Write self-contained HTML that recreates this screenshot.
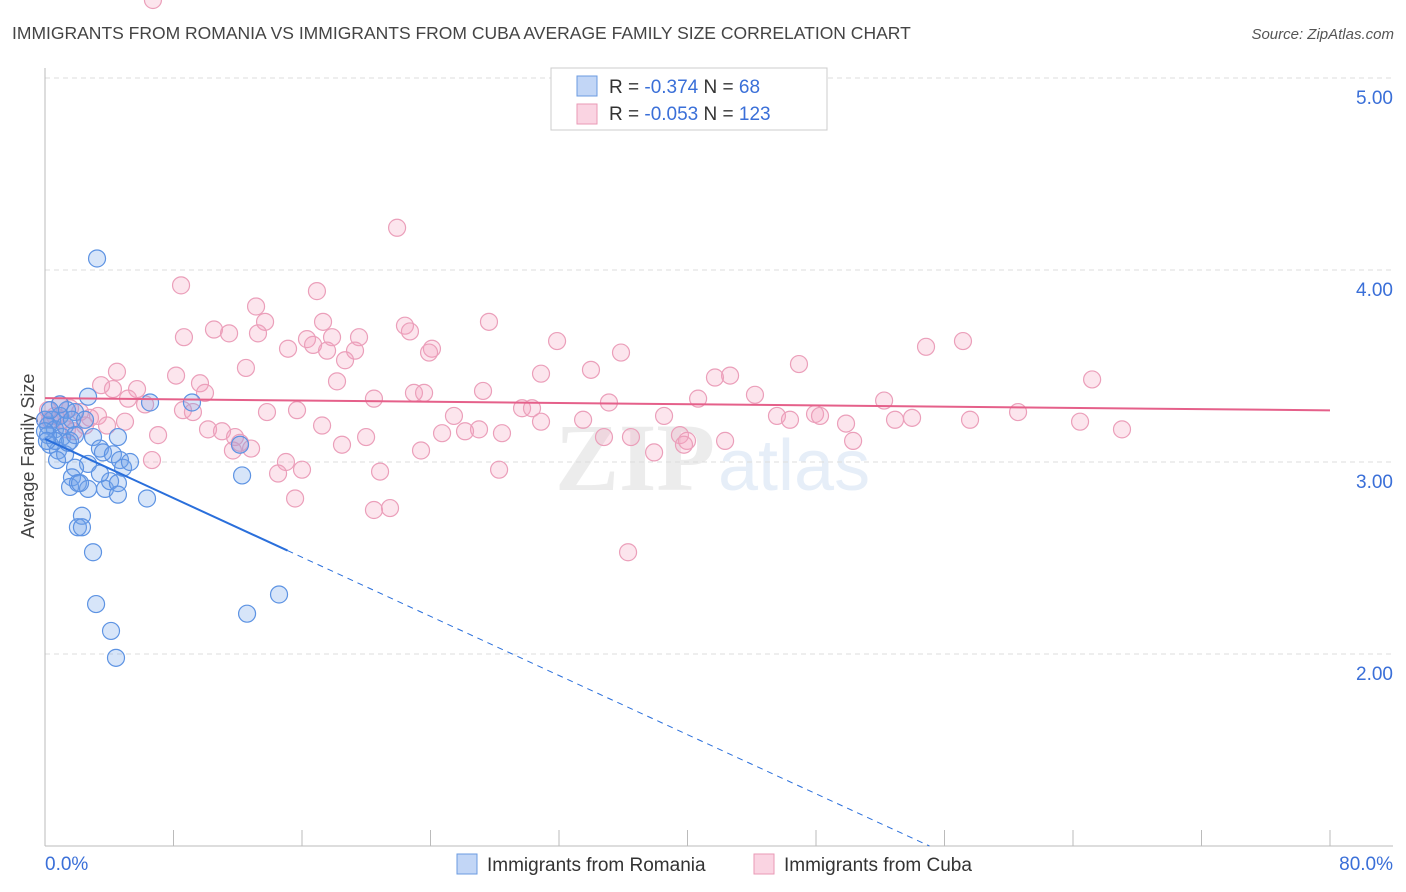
<!DOCTYPE html>
<html><head><meta charset="utf-8"><style>
body{margin:0;background:#fff;font-family:"Liberation Sans",sans-serif}
svg{display:block}
</style></head><body>
<svg id="chart" width="1406" height="892" xmlns="http://www.w3.org/2000/svg" font-family="Liberation Sans, sans-serif">
<text x="12" y="39" font-size="17.5" fill="#444">IMMIGRANTS FROM ROMANIA VS IMMIGRANTS FROM CUBA AVERAGE FAMILY SIZE CORRELATION CHART</text>
<text x="1394" y="39" font-size="15" fill="#555" text-anchor="end" font-style="italic">Source: ZipAtlas.com</text>
<g opacity="0.18">
<text x="555" y="490" font-size="96" font-family="Liberation Serif, serif" fill="#999" font-weight="bold">ZIP</text>
<text x="718" y="490" font-size="72" fill="#7aa5dd">atlas</text>
</g>
<g id="grid"></g>
<g id="axes"></g>
<text transform="translate(34,456) rotate(-90)" font-size="18" fill="#444" text-anchor="middle">Average Family Size</text>
<g id="marks"></g>
<g>
<rect x="551" y="68" width="276" height="62" fill="#fff" stroke="#ccc"/>
<rect x="577" y="76" width="20" height="20" fill="rgba(120,165,235,0.45)" stroke="#6b9be0"/>
<rect x="577" y="104" width="20" height="20" fill="rgba(245,160,190,0.45)" stroke="#e99ab6"/>
<text x="609" y="93" font-size="19" fill="#333">R = <tspan fill="#3a6fd8">-0.374</tspan>   N = <tspan fill="#3a6fd8"> 68</tspan></text>
<text x="609" y="120" font-size="19" fill="#333">R = <tspan fill="#3a6fd8">-0.053</tspan>   N = <tspan fill="#3a6fd8">123</tspan></text>
</g>
<g>
<rect x="457" y="854" width="20" height="20" fill="rgba(120,165,235,0.45)" stroke="#6b9be0"/>
<text x="487" y="871" font-size="19" fill="#333">Immigrants from Romania</text>
<rect x="754" y="854" width="20" height="20" fill="rgba(245,160,190,0.45)" stroke="#e99ab6"/>
<text x="784" y="871" font-size="19" fill="#333">Immigrants from Cuba</text>
</g>
</svg>
<script>
const yTicks=[2,3,4,5];
const xTickCount=[0,8,16,24,32,40,48,56,64,72,80];
const romX=[3.24,6.54,2.68,1.37,1.87,0.93,0.44,0.19,0.62,1.06,1.56,0.31,0.81,1.25,4.54,2.99,3.42,3.61,4.23,4.67,4.86,2.68,1.87,1.68,1.56,2.05,2.68,2.18,3.74,4.05,4.54,4.54,6.35,9.15,12.14,12.27,2.30,2.05,2.30,2.99,3.18,4.11,4.42,12.58,14.57,0,0.19,0.62,1.25,1.68,2.49,0.93,0.31,0.75,1.43,1.87,5.29,3.42,0,0.12];
const romY=[4.06,3.31,3.34,3.27,3.26,3.24,3.22,3.19,3.17,3.13,3.11,3.09,3.06,3.04,3.13,3.13,3.07,3.05,3.04,3.01,2.97,2.99,2.97,2.92,2.87,2.89,2.86,2.89,2.86,2.90,2.89,2.83,2.81,3.31,3.09,2.93,2.72,2.66,2.66,2.53,2.26,2.12,1.98,2.21,2.31,3.22,3.14,3.11,3.19,3.22,3.22,3.30,3.27,3.01,3.10,3.14,3.00,2.94,3.16,3.11];
const cubX=[21.92,8.47,13.14,16.93,10.52,11.46,13.70,13.26,8.65,17.31,16.31,15.13,16.69,17.87,19.55,19.30,17.56,22.41,22.72,24.09,23.91,27.64,31.88,35.86,33.99,54.85,57.15,46.94,18.68,12.51,8.16,4.48,18.18,22.97,23.60,27.27,20.48,3.49,4.23,5.73,9.65,9.96,30.88,42.65,41.71,44.20,40.66,35.11,52.24,65.19,5.17,6.23,8.59,9.21,13.82,15.69,29.70,30.32,25.46,27.02,30.88,33.50,38.54,45.57,46.38,47.94,48.25,49.87,52.92,53.98,57.59,60.58,64.44,67.05,10.15,11.02,7.04,4.98,3.30,2.80,2.18,1.56,0.93,0.62,0.31,11.83,12.14,12.83,11.70,18.49,19.99,17.25,24.72,26.15,28.45,34.80,36.48,39.53,39.97,42.34,50.31,6.66,15.00,16.00,14.51,20.86,23.41,28.27,15.57,20.48,21.48,36.30,37.92,39.78,3.86,1.37,1.81,0,0.19,1.06,2.49,6.72];
const cubY=[4.22,3.92,3.81,3.89,3.69,3.67,3.73,3.67,3.65,3.73,3.64,3.59,3.61,3.65,3.65,3.58,3.58,3.71,3.68,3.59,3.57,3.73,3.63,3.57,3.48,3.60,3.63,3.51,3.53,3.49,3.45,3.47,3.42,3.36,3.36,3.37,3.33,3.40,3.38,3.38,3.41,3.36,3.46,3.45,3.44,3.35,3.33,3.31,3.32,3.43,3.33,3.30,3.27,3.26,3.26,3.27,3.28,3.28,3.24,3.17,3.21,3.22,3.24,3.24,3.22,3.25,3.24,3.20,3.22,3.23,3.22,3.26,3.21,3.17,3.17,3.16,3.14,3.21,3.24,3.23,3.26,3.28,3.30,3.24,3.22,3.13,3.10,3.07,3.06,3.09,3.13,3.19,3.15,3.16,3.15,3.13,3.13,3.14,3.11,3.11,3.11,3.01,3.00,2.96,2.94,2.95,3.06,2.96,2.81,2.75,2.76,2.53,3.05,3.09,3.19,3.17,3.16,3.22,3.27,3.22,3.19];
const romTrend=[3.12,-0.0385];
const cubTrend=[3.333,-0.0008];
const X0=45,X1=1330,Y1=846,PXU=192;
const sx=v=>X0+(v/80)*(X1-X0);
const sy=v=>Y1-(v-1)*PXU;
const NS='http://www.w3.org/2000/svg';
function mk(tag,attrs,parent){const e=document.createElementNS(NS,tag);for(const k in attrs)e.setAttribute(k,attrs[k]);parent.appendChild(e);return e;}
const grid=document.getElementById('grid'),axes=document.getElementById('axes'),marks=document.getElementById('marks');
yTicks.forEach(t=>{
 const l=mk('line',{x1:X0,x2:1393,y1:sy(t),y2:sy(t),stroke:'#ddd','stroke-dasharray':'5,4'},grid);
 
 
 const tx=mk('text',{x:1393,y:sy(t)+26,'font-size':19,fill:'#3a6fd8','text-anchor':'end'},axes);
 tx.textContent=t.toFixed(2);
 
 
});
const ax=mk('line',{x1:X0,x2:X0,y1:68,y2:Y1,stroke:'#bbb'},axes);


const bx=mk('line',{x1:X0,x2:1393,y1:Y1,y2:Y1,stroke:'#bbb'},axes);


xTickCount.forEach(t=>{
 const l=mk('line',{x1:sx(t),x2:sx(t),y1:830,y2:Y1,stroke:'#bbb'},axes);
 
 
});
const xl0=mk('text',{x:45,y:870,'font-size':19,fill:'#3a6fd8'},axes);xl0.textContent='0.0%';


const xl1=mk('text',{x:1393,y:870,'font-size':19,fill:'#3a6fd8','text-anchor':'end'},axes);xl1.textContent='80.0%';


cubX.forEach((x,i)=>{
 const c=mk('circle',{cx:sx(x),cy:sy(cubY[i]),r:8.5,fill:'rgba(245,160,190,0.28)',stroke:'#eb9fba','stroke-width':1.2},marks);
 
 
});
romX.forEach((x,i)=>{
 const c=mk('circle',{cx:sx(x),cy:sy(romY[i]),r:8.5,fill:'rgba(110,160,235,0.28)',stroke:'#5d93e3','stroke-width':1.2},marks);
 
 
});
const ct=mk('line',{x1:sx(0),y1:sy(cubTrend[0]),x2:sx(80),y2:sy(cubTrend[0]+cubTrend[1]*80),stroke:'#e5608a','stroke-width':2},marks);


const solidEnd=15.1;
const rt=mk('line',{x1:sx(0),y1:sy(romTrend[0]),x2:sx(solidEnd),y2:sy(romTrend[0]+romTrend[1]*solidEnd),stroke:'#2a6fdb','stroke-width':2},marks);


const xEnd=(1-romTrend[0])/romTrend[1];
const rd=mk('line',{x1:sx(solidEnd),y1:sy(romTrend[0]+romTrend[1]*solidEnd),x2:sx(xEnd),y2:sy(1),stroke:'#2a6fdb','stroke-width':1,'stroke-dasharray':'6,5'},marks);


</script>
</body></html>
